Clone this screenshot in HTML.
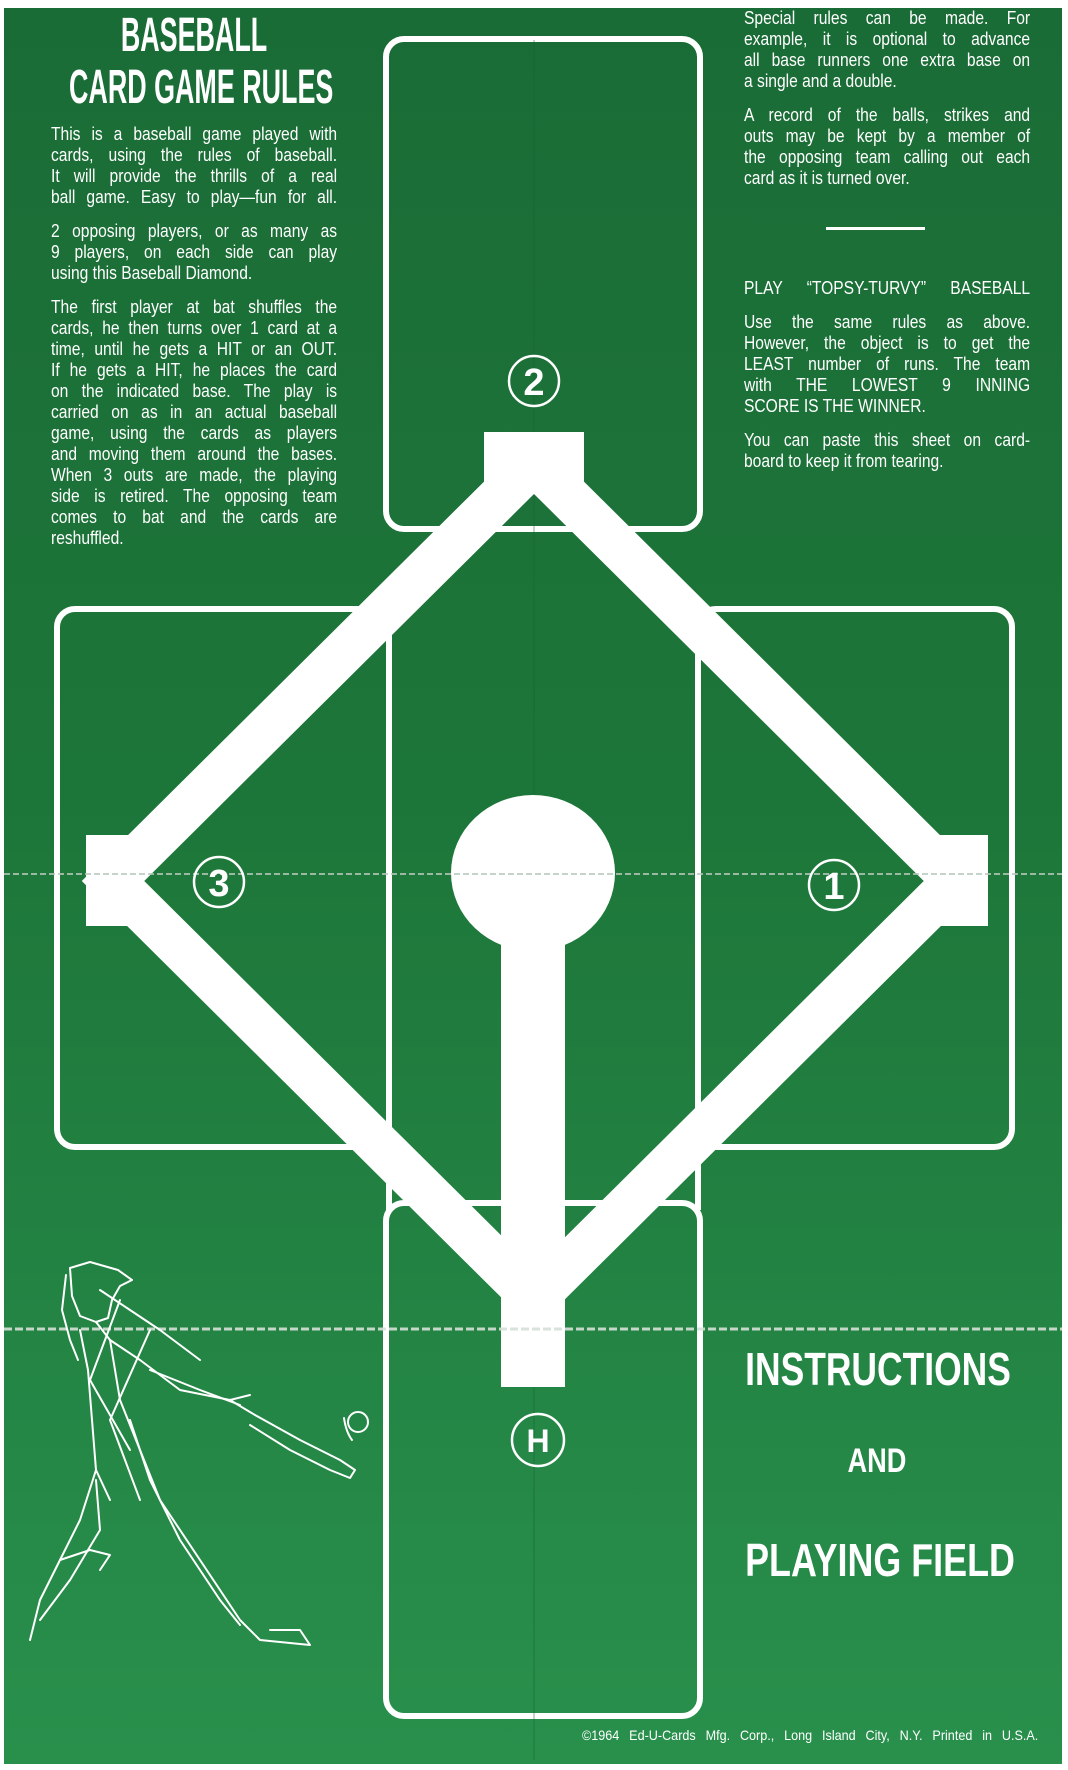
<!DOCTYPE html>
<html><head><meta charset="utf-8"><style>
html,body{margin:0;padding:0}
body{width:1068px;height:1770px;position:relative;overflow:hidden;background:#fff;font-family:"Liberation Sans",sans-serif;color:#fff}
#bg{position:absolute;left:4px;top:8px;width:1058px;height:1756px;background:linear-gradient(#1a6c36 0%,#1d7639 45%,#238444 75%,#29904c 100%)}
svg{position:absolute;left:0;top:0}
.col{position:absolute;width:330px;font-size:18px;transform:scaleX(.867);transform-origin:0 0}
.l{height:21px;line-height:21px;text-align:justify;text-align-last:justify;white-space:nowrap;overflow:visible}
.l.e{text-align-last:left}
.gap{height:13px}
.big{position:absolute;font-weight:bold;white-space:nowrap;transform-origin:50% 50%}
</style></head><body>
<div id="bg"></div>
<svg width="1068" height="1770" viewBox="0 0 1068 1770">
 <g fill="none" stroke="#fff" stroke-width="6">
  <rect x="386" y="39" width="314" height="490" rx="18"/>
  <rect x="57" y="609" width="332" height="538" rx="18"/>
  <rect x="698" y="609" width="314" height="538" rx="18"/>
  <rect x="386" y="1203" width="314" height="513" rx="18"/>
  <line x1="389" y1="620" x2="389" y2="1210"/>
  <line x1="698" y1="620" x2="698" y2="1210"/>
 </g>
 <line x1="534" y1="40" x2="534" y2="1760" stroke="#16602f" stroke-width="1" opacity=".5"/>
 <path d="M534,463 L113,881 L534,1299 L955,881 Z" fill="none" stroke="#fff" stroke-width="44" stroke-linejoin="miter"/>
 <rect x="484" y="432" width="100" height="56" fill="#fff"/>
 <rect x="86" y="835" width="43" height="91" fill="#fff"/>
 <rect x="939" y="835" width="49" height="91" fill="#fff"/>
 <ellipse cx="533" cy="873" rx="82" ry="78" fill="#fff"/>
 <rect x="501" y="940" width="64" height="447" fill="#fff"/>
 <line x1="4" y1="874" x2="1062" y2="874" stroke="#b9c9bd" stroke-width="2" stroke-dasharray="6 3" opacity=".8"/>
 <line x1="4" y1="1329" x2="1062" y2="1329" stroke="#d6e0d8" stroke-width="3" stroke-dasharray="8 3" opacity=".9"/>
 <g fill="none" stroke="#fff" stroke-width="2.5">
  <circle cx="534" cy="381" r="25"/>
  <circle cx="219" cy="882" r="25"/>
  <circle cx="834" cy="885" r="25"/>
  <circle cx="538" cy="1440" r="26"/>
 </g>
 <g fill="#fff" font-family="Liberation Sans,sans-serif" font-weight="bold" text-anchor="middle">
  <text x="534" y="395" font-size="38">2</text>
  <text x="219" y="896" font-size="38">3</text>
  <text x="834" y="899" font-size="38">1</text>
  <text x="538" y="1452" font-size="32">H</text>
 </g>
 <g fill="none" stroke="#fff" stroke-width="2" stroke-linecap="round" stroke-linejoin="round">
  <path d="M70,1268 L90,1262 L118,1270 L132,1280 L120,1286 L112,1300 L108,1318 L96,1322 L80,1316 L72,1296 Z"/>
  <path d="M66,1275 L62,1310 L70,1340 L78,1360"/>
  <path d="M96,1322 L110,1340 L140,1360 L180,1390 L230,1400 L250,1395"/>
  <path d="M80,1330 L88,1370 L92,1420 L96,1470 L110,1500"/>
  <path d="M110,1340 L120,1400 L140,1450 L160,1500 L200,1560 L240,1620 L260,1640 L310,1645 L300,1630 L270,1630"/>
  <path d="M130,1420 L150,1480 L180,1540 L220,1600 L240,1625"/>
  <path d="M96,1470 L80,1520 L60,1560 L40,1600 L30,1640 M96,1480 L100,1530 L70,1580 L40,1620"/>
  <path d="M60,1560 L90,1550 L110,1555 L100,1570"/>
  <path d="M230,1400 L255,1415 L300,1440 L340,1460 L355,1470 L350,1478 L330,1470 L290,1450 L250,1425"/>
  <path d="M150,1370 L200,1390 L240,1405"/>
  <circle cx="358" cy="1422" r="10"/>
  <path d="M344,1418 Q346,1432 352,1440"/>
  <path d="M100,1290 L160,1330 L200,1360 M120,1300 L90,1380 L130,1450 M150,1330 L110,1420 L140,1500"/>
 </g>
</svg>

<div class="big" style="left:44px;top:12px;width:300px;text-align:center;font-size:48px;line-height:48px;transform:scaleX(.56)">BASEBALL</div>
<div class="big" style="left:-30px;top:64px;width:450px;text-align:center;font-size:48px;line-height:48px;transform:scaleX(.56)">CARD GAME RULES</div>

<div class="col" style="left:51px;top:124px">
 <div class="l">This is a baseball game played with</div>
 <div class="l">cards, using the rules of baseball.</div>
 <div class="l">It will provide the thrills of a real</div>
 <div class="l">ball game. Easy to play—fun for all.</div>
 <div class="gap"></div>
 <div class="l">2 opposing players, or as many as</div>
 <div class="l">9 players, on each side can play</div>
 <div class="l e">using this Baseball Diamond.</div>
 <div class="gap"></div>
 <div class="l">The first player at bat shuffles the</div>
 <div class="l">cards, he then turns over 1 card at a</div>
 <div class="l">time, until he gets a HIT or an OUT.</div>
 <div class="l">If he gets a HIT, he places the card</div>
 <div class="l">on the indicated base. The play is</div>
 <div class="l">carried on as in an actual baseball</div>
 <div class="l">game, using the cards as players</div>
 <div class="l">and moving them around the bases.</div>
 <div class="l">When 3 outs are made, the playing</div>
 <div class="l">side is retired. The opposing team</div>
 <div class="l">comes to bat and the cards are</div>
 <div class="l e">reshuffled.</div>
</div>

<div class="col" style="left:744px;top:8px">
 <div class="l">Special rules can be made. For</div>
 <div class="l">example, it is optional to advance</div>
 <div class="l">all base runners one extra base on</div>
 <div class="l e">a single and a double.</div>
 <div class="gap"></div>
 <div class="l">A record of the balls, strikes and</div>
 <div class="l">outs may be kept by a member of</div>
 <div class="l">the opposing team calling out each</div>
 <div class="l e">card as it is turned over.</div>
</div>
<div style="position:absolute;left:826px;top:227px;width:99px;height:3px;background:#fff"></div>
<div class="col" style="left:744px;top:278px">
 <div class="l">PLAY “TOPSY-TURVY” BASEBALL</div>
 <div class="gap"></div>
 <div class="l">Use the same rules as above.</div>
 <div class="l">However, the object is to get the</div>
 <div class="l">LEAST number of runs. The team</div>
 <div class="l">with THE LOWEST 9 INNING</div>
 <div class="l e">SCORE IS THE WINNER.</div>
 <div class="gap"></div>
 <div class="l">You can paste this sheet on card-</div>
 <div class="l e">board to keep it from tearing.</div>
</div>

<div class="big" style="left:678px;top:1346px;width:400px;text-align:center;font-size:46px;line-height:46px;transform:scaleX(.77)">INSTRUCTIONS</div>
<div class="big" style="left:827px;top:1444px;width:100px;text-align:center;font-size:34px;line-height:34px;transform:scaleX(.8)">AND</div>
<div class="big" style="left:680px;top:1537px;width:400px;text-align:center;font-size:46px;line-height:46px;transform:scaleX(.78)">PLAYING FIELD</div>
<div style="position:absolute;left:582px;top:1727px;width:507px;font-size:14px;line-height:16px;white-space:nowrap;text-align:justify;text-align-last:justify;transform:scaleX(.9);transform-origin:0 0">©1964 Ed-U-Cards Mfg. Corp., Long Island City, N.Y. Printed in U.S.A.</div>
</body></html>
